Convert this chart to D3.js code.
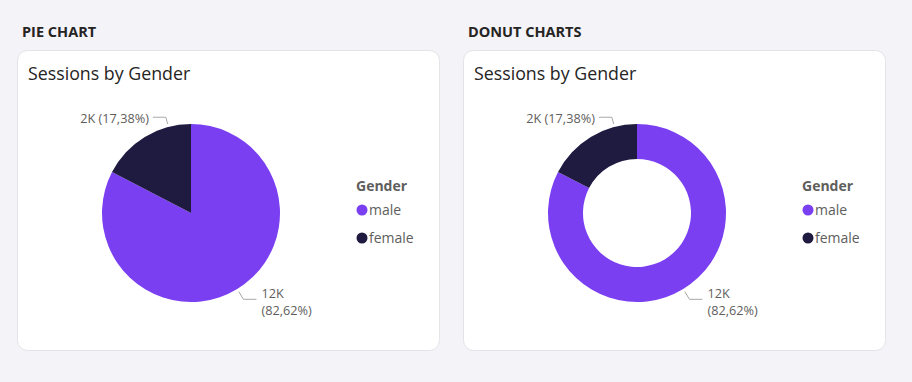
<!DOCTYPE html>
<html>
<head>
<meta charset="utf-8">
<script src="https://cdn.jsdelivr.net/npm/d3@7"></script>
<style>
  body { margin: 0; background: #f3f3f8; font-family: "Open Sans", "Noto Sans", sans-serif; }
  svg { display: block; }
</style>
</head>
<body>
<script>
// Data
var genders = ["male", "female"];
var shares = [82.62, 17.38];          // percent of sessions
var valueLabels = ["12K", "2K"];
var pctLabels = ["82,62%", "17,38%"];
var labelAt = [0.5, 0.765];           // where along each slice the leader line sits
var panelHeadings = ["PIE CHART", "DONUT CHARTS"];
var panelTitle = "Sessions by Gender";
var legendTitle = "Gender";

var width = 912, height = 382;
var color = d3.scaleOrdinal().domain(genders).range(["#7b3ff2", "#1e1a40"]);

var svg = d3.select("body").append("svg")
    .attr("width", width)
    .attr("height", height);

var pie = d3.pie().sort(null).value(function(d) { return d.share; });
var data = genders.map(function(g, i) {
  return { gender: g, share: shares[i], value: valueLabels[i], pct: pctLabels[i], at: labelAt[i] };
});
var arcs = pie(data);

var radius = 89;
var panelX = d3.scaleOrdinal().domain(panelHeadings).range([0, 446]);

panelHeadings.forEach(function(heading, p) {
  var g = svg.append("g").attr("transform", "translate(" + panelX(heading) + ",0)");

  g.append("text")
      .attr("x", 22).attr("y", 37)
      .attr("font-size", 14.5).attr("font-weight", 700)
      .attr("fill", "#252423")
      .text(heading);

  g.append("rect")
      .attr("x", 17.5).attr("y", 50.5)
      .attr("width", 422).attr("height", 300)
      .attr("rx", 10)
      .attr("fill", "#fff")
      .attr("stroke", "#e3e3e8");

  g.append("text")
      .attr("x", 28).attr("y", 80)
      .attr("font-size", 17.8)
      .attr("fill", "#252423")
      .text(panelTitle);

  var inner = p === 0 ? 0 : 54;
  var arc = d3.arc().innerRadius(inner).outerRadius(radius);

  var chart = g.append("g").attr("transform", "translate(191,213)");

  chart.selectAll("path.slice")
    .data(arcs)
    .enter().append("path")
      .attr("class", "slice")
      .attr("d", arc)
      .attr("fill", function(d) { return color(d.data.gender); });

  // leader lines and labels
  arcs.forEach(function(d) {
    var a = d.startAngle + (d.endAngle - d.startAngle) * d.data.at;
    var right = Math.sin(a) > 0;
    var r2 = radius + (right ? 12 : 10);
    var p1 = [Math.sin(a) * (radius + 3), -Math.cos(a) * (radius + 3)];
    var p2 = [Math.sin(a) * r2, -Math.cos(a) * r2];
    var p3 = [p2[0] + (right ? 13 : -13), p2[1]];

    chart.append("polyline")
        .attr("points", [p1, p2, p3].map(function(q) { return q.join(","); }).join(" "))
        .attr("fill", "none")
        .attr("stroke", "#a8a8a8")
        .attr("stroke-width", 1);

    var t = chart.append("text")
        .attr("font-size", 12.7)
        .attr("fill", "#605e5c")
        .attr("text-anchor", right ? "start" : "end");

    if (right) {
      t.append("tspan").attr("x", p3[0] + 5).attr("y", p3[1] - 1.5).text(d.data.value);
      t.append("tspan").attr("x", p3[0] + 5).attr("y", p3[1] + 15.5).text("(" + d.data.pct + ")");
    } else {
      t.attr("x", p3[0] - 4).attr("y", p3[1] + 5.5)
        .text(d.data.value + " (" + d.data.pct + ")");
    }
  });

  // legend
  var legend = g.append("g").attr("transform", "translate(356,0)");
  legend.append("text")
      .attr("x", 0).attr("y", 191)
      .attr("font-size", 14).attr("font-weight", 700)
      .attr("fill", "#605e5c")
      .text(legendTitle);

  var items = legend.selectAll("g.item")
    .data(genders)
    .enter().append("g")
      .attr("class", "item")
      .attr("transform", function(d, i) { return "translate(0," + (210 + i * 28) + ")"; });

  items.append("circle")
      .attr("cx", 6).attr("cy", 0).attr("r", 5.5)
      .attr("fill", function(d) { return color(d); });

  items.append("text")
      .attr("x", 13).attr("y", 5)
      .attr("font-size", 14)
      .attr("fill", "#605e5c")
      .text(function(d) { return d; });
});
</script>
</body>
</html>
